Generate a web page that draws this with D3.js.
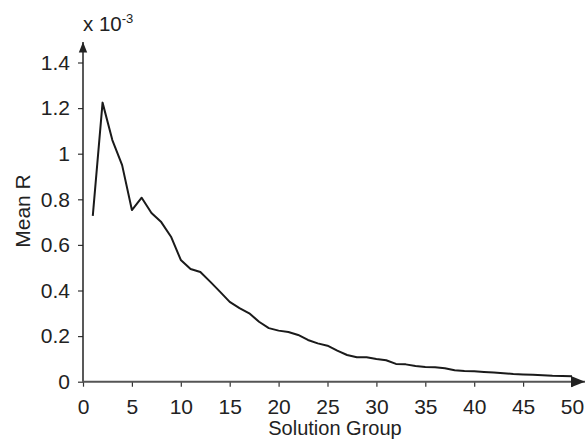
<!DOCTYPE html>
<html>
<head>
<meta charset="utf-8">
<script src="https://cdn.jsdelivr.net/npm/d3@7"></script>
<style>
  body { margin: 0; background: #fff; }
  text { font-family: "Liberation Sans", Arial, sans-serif; fill: #222; }
</style>
</head>
<body>
<div class="canvas"></div>
<script>
// data (values in units of 1e-3)
const groups = d3.range(1, 51);
const meanR = [
  0.727, 1.224, 1.06, 0.95, 0.753, 0.807, 0.74, 0.70, 0.636, 0.534,
  0.494, 0.481, 0.439, 0.395, 0.35, 0.323, 0.30, 0.263, 0.235, 0.224,
  0.218, 0.205, 0.183, 0.168, 0.158, 0.136, 0.117, 0.107, 0.107, 0.10,
  0.094, 0.078, 0.076, 0.069, 0.065, 0.063, 0.059, 0.05, 0.047, 0.046,
  0.043, 0.04, 0.037, 0.034, 0.032, 0.030, 0.028, 0.026, 0.025, 0.024
];
const xTicks = [0, 5, 10, 15, 20, 25, 30, 35, 40, 45, 50];
const yTicks = [0, 0.2, 0.4, 0.6, 0.8, 1, 1.2, 1.4];

const width = 585, height = 441;
const margin = { top: 62.5, right: 13, bottom: 59, left: 83 };
const graphWidth = 572 - margin.left;
const graphHeight = 381.7 - margin.top;

const svg = d3
  .select(".canvas")
  .append("svg")
  .attr("width", width)
  .attr("height", height);

const graph = svg
  .append("g")
  .attr("transform", `translate(${margin.left}, ${margin.top})`);

const x = d3.scaleLinear().domain([0, 50]).range([0, graphWidth]);
const y = d3.scaleLinear().domain([0, 1.4]).range([graphHeight, 0]);

//axes
const xAxis = d3.axisBottom(x).tickValues(xTicks).tickSize(5).tickSizeOuter(0).tickPadding(12);
const yAxis = d3.axisLeft(y).tickValues(yTicks).tickSize(5).tickSizeOuter(0).tickPadding(8)
  .tickFormat(d => d3.format("~g")(d));

const xAxisGroup = graph.append("g")
  .attr("transform", `translate(0, ${graphHeight})`)
  .call(xAxis);
const yAxisGroup = graph.append("g").call(yAxis);

xAxisGroup.select(".domain").remove();
yAxisGroup.select(".domain").remove();

[xAxisGroup, yAxisGroup].forEach(g => {
  g.attr("font-size", null).attr("font-family", null);
  g.selectAll("text").style("font-size", "21px").attr("fill", "#222");
  g.selectAll(".tick line").attr("stroke", "#333").attr("stroke-width", 1.2);
});

// axis lines with arrows
svg.append("defs").append("marker")
  .attr("id", "arrow")
  .attr("viewBox", "0 0 10 10")
  .attr("refX", 10).attr("refY", 5)
  .attr("markerWidth", 7).attr("markerHeight", 7)
  .attr("orient", "auto")
  .append("path")
  .attr("d", "M0,1 L10,5 L0,9 Z")
  .attr("fill", "#222");

graph.append("line")
  .attr("x1", 0).attr("x2", 0)
  .attr("y1", graphHeight).attr("y2", 42 - margin.top)
  .attr("stroke", "#222").attr("stroke-width", 1.5)
  .attr("marker-end", "url(#arrow)");

graph.append("line")
  .attr("x1", 0).attr("x2", 585 - margin.left)
  .attr("y1", graphHeight).attr("y2", graphHeight)
  .attr("stroke", "#555").attr("stroke-width", 2)
  .attr("marker-end", "url(#arrow)");

//line
const line = d3.line()
  .x((d, i) => x(groups[i]))
  .y(d => y(d));

graph.append("path")
  .datum(meanR)
  .attr("fill", "none")
  .attr("stroke", "#1a1a1a")
  .attr("stroke-width", 2)
  .attr("stroke-linejoin", "round")
  .attr("d", line);

// labels
svg.append("text")
  .attr("x", 335).attr("y", 435)
  .attr("text-anchor", "middle")
  .style("font-size", "20px")
  .text("Solution Group");

svg.append("text")
  .attr("transform", "translate(30, 211) rotate(-90)")
  .attr("text-anchor", "middle")
  .style("font-size", "21px")
  .text("Mean R");

const exp = svg.append("text")
  .attr("x", 83).attr("y", 30.5)
  .style("font-size", "20.5px");
exp.append("tspan").text("x 10");
exp.append("tspan").attr("dy", -8).style("font-size", "13px").text("-3");
</script>
</body>
</html>
